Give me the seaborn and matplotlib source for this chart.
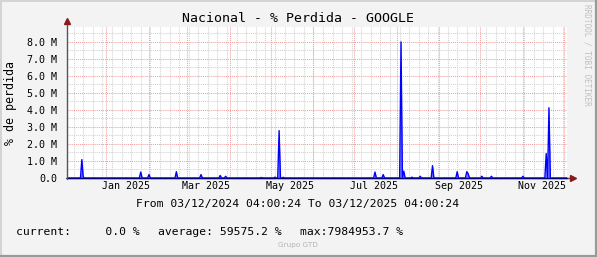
import numpy as np
import pandas as pd
import matplotlib
matplotlib.use("Agg")
import matplotlib.pyplot as plt
import matplotlib.dates as mdates
from matplotlib.patches import Rectangle
import seaborn as sns

# ---- data (values in units of %, shown as M) ----
start_time = "2024-12-03 04:00:24"
end_time = "2025-12-03 04:00:24"
spike_dates = ["2024-12-14", "2024-12-15", "2025-01-26", "2025-02-01", "2025-02-21",
               "2025-03-11", "2025-03-25", "2025-03-29", "2025-04-24", "2025-05-04",
               "2025-05-07", "2025-05-10", "2025-07-16", "2025-07-22", "2025-08-04",
               "2025-08-06", "2025-08-12", "2025-08-18", "2025-08-27", "2025-09-14",
               "2025-09-21", "2025-09-22", "2025-10-02", "2025-10-09", "2025-11-01",
               "2025-11-18", "2025-11-20"]
spike_values = [1.08e6, 0.05e6, 0.35e6, 0.20e6, 0.37e6,
                0.20e6, 0.15e6, 0.10e6, 0.03e6, 0.05e6,
                2.78e6, 0.04e6, 0.35e6, 0.20e6, 7984953.7,
                0.40e6, 0.05e6, 0.10e6, 0.72e6, 0.37e6,
                0.37e6, 0.25e6, 0.10e6, 0.10e6, 0.10e6,
                1.43e6, 4.12e6]
y_ticks = [0, 1e6, 2e6, 3e6, 4e6, 5e6, 6e6, 7e6, 8e6]
y_tick_labels = ["0.0", "1.0 M", "2.0 M", "3.0 M", "4.0 M", "5.0 M", "6.0 M", "7.0 M", "8.0 M"]
x_tick_dates = ["2025-01-15", "2025-03-15", "2025-05-15", "2025-07-15", "2025-09-15", "2025-11-15"]
x_tick_labels = ["Jan 2025", "Mar 2025", "May 2025", "Jul 2025", "Sep 2025", "Nov 2025"]
title = "Nacional - % Perdida - GOOGLE"
ylabel = "% de perdida"
period_text = "From 03/12/2024 04:00:24 To 03/12/2025 04:00:24"
legend_current = "current:     0.0 %"
legend_average = "average: 59575.2 %"
legend_max = "max:7984953.7 %"

# ---- build series (zero elsewhere) ----
t0 = pd.Timestamp(start_time)
t1 = pd.Timestamp(end_time)
days = pd.date_range("2024-12-04", "2025-12-03", freq="D")
series = pd.Series(0.0, index=days)
for d, v in zip(spike_dates, spike_values):
    series[pd.Timestamp(d)] = v
series = pd.concat([pd.Series([0.0], index=[t0]), series])
df = pd.DataFrame({"time": series.index, "value": series.values})

sns.set_style("white")
plt.rcParams["font.family"] = ["DejaVu Sans Mono", "DejaVu Sans"]

W, H = 597, 257
fig = plt.figure(figsize=(W / 100, H / 100), dpi=100)
fig.patch.set_facecolor("#f3f3f3")

def fx(px):
    return px / W

def fy(py):
    return 1 - py / H

L, R, T, B = 67, 567, 27, 178
ax = fig.add_axes([fx(L), fy(B), (R - L) / W, (B - T) / H])
ax.set_facecolor("white")

ymax = 8.86e6
ax.set_xlim(mdates.date2num(t0), mdates.date2num(t1))
ax.set_ylim(0, ymax)

# grid: minor
dot = (0, (1, 1))
for wk in pd.date_range("2024-12-08", "2025-12-03", freq="7D"):
    ax.axvline(mdates.date2num(wk), color="#d2d2d2", lw=0.75, ls=dot, zorder=0)
for yv in np.arange(0.5e6, ymax, 1e6):
    ax.axhline(yv, color="#d2d2d2", lw=0.75, ls=dot, zorder=0)
# grid: major
for ms in pd.date_range("2025-01-01", "2025-12-01", freq="MS"):
    ax.axvline(mdates.date2num(ms), color="#f0a0a0", lw=0.75, ls=dot, zorder=0.5)
for yv in y_ticks[1:]:
    ax.axhline(yv, color="#f0a0a0", lw=0.75, ls=dot, zorder=0.5)

# fill + line
ax.fill_between(mdates.date2num(df["time"]), df["value"], 0, color="#8080ff", lw=0, zorder=2)
sns.lineplot(data=df, x="time", y="value", ax=ax, color="#0000ff", lw=1.0, zorder=3)

for s in ax.spines.values():
    s.set_visible(False)

ax.set_yticks(y_ticks)
ax.set_yticklabels(y_tick_labels)
ax.set_xticks([mdates.date2num(pd.Timestamp(d)) for d in x_tick_dates])
ax.set_xticklabels(x_tick_labels)
ax.tick_params(axis="both", length=0, labelsize=7.2, colors="#000000", pad=4)
ax.tick_params(axis="y", pad=7)
ax.tick_params(axis="x", pad=2.5)
ax.set_xlabel("")
ax.set_ylabel("")

# axes lines with arrows
fig.add_artist(plt.Line2D([fx(L), fx(L)], [fy(B + 1), fy(22)], color="#555555", lw=1.0))
fig.add_artist(plt.Line2D([fx(L - 1), fx(571)], [fy(B), fy(B)], color="#555555", lw=1.0))
fig.add_artist(plt.Line2D([fx(L)], [fy(21)], marker="^", ms=4.5, color="#8b1a1a", mec="#8b1a1a"))
fig.add_artist(plt.Line2D([fx(573)], [fy(B)], marker=">", ms=4.5, color="#8b1a1a", mec="#8b1a1a"))
# baseline blue line drawn over axis
fig.add_artist(plt.Line2D([fx(L + 1), fx(R)], [fy(B), fy(B)], color="#00007a", lw=1.0))

# texts
fig.text(fx(298), fy(19), title, ha="center", va="center", fontsize=9.5, color="#000000")
fig.text(fx(11), fy(103), ylabel, ha="center", va="center", rotation=90, fontsize=8.4, color="#000000")
fig.text(fx(298), fy(204), period_text, ha="center", va="center", fontsize=8.2, color="#000000")
fig.text(fx(16.5), fy(232), legend_current, ha="left", va="center", fontsize=8.2, color="#000000")
fig.text(fx(158), fy(232), legend_average, ha="left", va="center", fontsize=8.2, color="#000000")
fig.text(fx(300), fy(232), legend_max, ha="left", va="center", fontsize=8.2, color="#000000")
fig.text(fx(297.5), fy(245), "Grupo GTD", ha="center", va="center", fontsize=5.2,
         family="DejaVu Sans", color="#b4b4b4")
fig.text(fx(587), fy(4), "RRDTOOL / TOBI OETIKER", ha="center", va="top", rotation=-90,
         fontsize=5.6, color="#c0c0c0")

# frame
fig.add_artist(plt.Line2D([0, 1], [fy(0.5), fy(0.5)], color="#d4d4d4", lw=1.4))
fig.add_artist(plt.Line2D([fx(0.5), fx(0.5)], [0, 1], color="#d4d4d4", lw=1.4))
fig.add_artist(plt.Line2D([0, 1], [fy(H - 1), fy(H - 1)], color="#9a9a9a", lw=1.6))
fig.add_artist(plt.Line2D([fx(W - 1), fx(W - 1)], [0, 1], color="#9a9a9a", lw=1.6))

fig.savefig("out.png", dpi=100, facecolor=fig.get_facecolor())
